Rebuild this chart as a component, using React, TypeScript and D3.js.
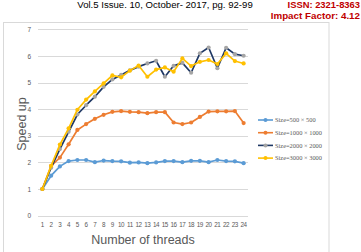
import React, { useEffect, useRef } from 'react';
import * as d3 from 'd3';

// categories on the x axis
const threads = [1, 2, 3, 4, 5, 6, 7, 8, 9, 10, 11, 12, 13, 14, 15, 16, 17, 18, 19, 20, 21, 22, 23, 24];
const yTicks = [0, 1, 2, 3, 4, 5, 6, 7];

// speed up per matrix size
const size500 = [1.0, 1.5, 1.85, 2.05, 2.09, 2.09, 2.01, 2.07, 2.05, 2.04, 1.99, 2.0, 1.97, 2.0, 2.05, 2.05, 2.01, 2.06, 2.06, 2.01, 2.09, 2.05, 2.04, 1.97];
const size1000 = [1.0, 1.87, 2.18, 2.68, 3.22, 3.44, 3.64, 3.79, 3.9, 3.93, 3.9, 3.89, 3.85, 3.89, 3.89, 3.5, 3.44, 3.5, 3.71, 3.91, 3.92, 3.92, 3.93, 3.48];
const size2000 = [1.0, 1.8, 2.5, 3.15, 3.8, 4.15, 4.47, 4.84, 5.12, 5.29, 5.46, 5.6, 5.72, 5.82, 5.22, 5.63, 5.74, 5.37, 6.1, 6.32, 5.54, 6.31, 6.07, 6.01];
const size3000 = [1.0, 1.87, 2.67, 3.28, 3.98, 4.36, 4.67, 4.97, 5.27, 5.2, 5.45, 5.64, 5.22, 5.49, 5.57, 5.41, 5.91, 5.62, 5.78, 5.85, 5.7, 6.1, 5.81, 5.72];

const legendLabels = ['Size=500 × 500', 'Size=1000 × 1000', 'Size=2000 × 2000', 'Size=3000 × 3000'];

const series = [
  { name: legendLabels[0], values: size500, line: '#5b9bd5', marker: '#5b9bd5' },
  { name: legendLabels[1], values: size1000, line: '#ed7d31', marker: '#ed7d31' },
  { name: legendLabels[2], values: size2000, line: '#1f3864', marker: '#a5a5a5' },
  { name: legendLabels[3], values: size3000, line: '#ffc000', marker: '#ffc000' },
];

export default function App() {
  const ref = useRef<SVGSVGElement>(null);

  useEffect(() => {
    if (ref.current == null) return;
    const svg = d3.select(ref.current);
    svg.selectAll('*').remove();

    const width = 361, height = 252;
    svg.attr('width', width).attr('height', height);

    svg.append('rect').attr('width', width).attr('height', height).attr('fill', '#fff');

    // journal header at the top edge
    svg.append('text')
      .attr('x', 165).attr('y', 8)
      .attr('text-anchor', 'middle')
      .attr('font-family', 'Liberation Sans, Arial, sans-serif')
      .attr('font-size', 9.6)
      .attr('fill', '#000')
      .text('Vol.5 Issue. 10, October- 2017, pg. 92-99');
    svg.append('text')
      .attr('x', 360).attr('y', 8)
      .attr('text-anchor', 'end')
      .attr('font-family', 'Liberation Sans, Arial, sans-serif')
      .attr('font-weight', 'bold')
      .attr('font-size', 9.4)
      .attr('fill', '#c00000')
      .text('ISSN: 2321-8363');
    svg.append('text')
      .attr('x', 360).attr('y', 18.8)
      .attr('text-anchor', 'end')
      .attr('font-family', 'Liberation Sans, Arial, sans-serif')
      .attr('font-weight', 'bold')
      .attr('font-size', 9.8)
      .attr('fill', '#c00000')
      .text('Impact Factor: 4.12');

    // chart frame
    svg.append('rect')
      .attr('x', 3.5).attr('y', 22.5)
      .attr('width', 325.5).attr('height', 240)
      .attr('fill', 'none')
      .attr('stroke', '#d9d9d9')
      .attr('stroke-width', 1);

    const x = d3.scaleBand<number>().domain(threads).range([38, 248]).padding(0);
    const cx = (t: number) => (x(t) as number) + x.bandwidth() / 2;
    const y = d3.scaleLinear().domain([0, 7]).range([215.6, 29.4]);

    // gridlines
    svg.append('g').selectAll('line')
      .data(yTicks)
      .enter().append('line')
      .attr('x1', 38).attr('x2', 248)
      .attr('y1', d => Math.round(y(d)) + 0.5)
      .attr('y2', d => Math.round(y(d)) + 0.5)
      .attr('stroke', '#d9d9d9')
      .attr('stroke-width', 1);

    // y tick labels
    svg.append('g').selectAll('text')
      .data(yTicks)
      .enter().append('text')
      .attr('x', 31)
      .attr('y', d => y(d) + 2.5)
      .attr('text-anchor', 'end')
      .attr('font-family', 'Liberation Sans, Arial, sans-serif')
      .attr('font-size', 6.5)
      .attr('fill', '#595959')
      .text(d => d);

    // x tick labels
    svg.append('g').selectAll('text')
      .data(threads)
      .enter().append('text')
      .attr('x', d => cx(d))
      .attr('y', 227)
      .attr('text-anchor', 'middle')
      .attr('font-family', 'Liberation Sans, Arial, sans-serif')
      .attr('font-size', 6.3)
      .attr('letter-spacing', -0.3)
      .attr('fill', '#595959')
      .text(d => d);

    // axis titles
    svg.append('text')
      .attr('x', 143).attr('y', 244)
      .attr('text-anchor', 'middle')
      .attr('font-family', 'Liberation Sans, Arial, sans-serif')
      .attr('font-size', 12.5)
      .attr('fill', '#595959')
      .text('Number of threads');
    svg.append('text')
      .attr('transform', 'translate(26,124) rotate(-90)')
      .attr('text-anchor', 'middle')
      .attr('font-family', 'Liberation Sans, Arial, sans-serif')
      .attr('font-size', 12.5)
      .attr('fill', '#595959')
      .text('Speed up');

    const line = d3.line<number>()
      .x((d, i) => cx(threads[i]))
      .y(d => y(d));

    series.forEach(s => {
      const g = svg.append('g');
      g.append('path')
        .datum(s.values)
        .attr('d', line)
        .attr('fill', 'none')
        .attr('stroke', s.line)
        .attr('stroke-width', 1.7)
        .attr('stroke-linejoin', 'round');
      g.selectAll('circle')
        .data(s.values)
        .enter().append('circle')
        .attr('cx', (d, i) => cx(threads[i]))
        .attr('cy', d => y(d))
        .attr('r', 2.1)
        .attr('fill', s.marker);
    });

    // legend
    const legend = svg.append('g');
    series.forEach((s, i) => {
      const ly = 120 + i * 12.7;
      legend.append('line')
        .attr('x1', 258).attr('x2', 273)
        .attr('y1', ly).attr('y2', ly)
        .attr('stroke', s.line)
        .attr('stroke-width', 1.6);
      legend.append('circle')
        .attr('cx', 265.5).attr('cy', ly)
        .attr('r', 2)
        .attr('fill', s.marker);
      legend.append('text')
        .attr('x', 275).attr('y', ly + 2.2)
        .attr('font-family', 'Liberation Serif, Times New Roman, serif')
        .attr('font-size', 6.4)
        .attr('fill', '#595959')
        .text(s.name);
    });
  }, []);

  return (
    <svg ref={ref} style={{ position: 'absolute', left: 0, top: 0 }} />
  );
}
